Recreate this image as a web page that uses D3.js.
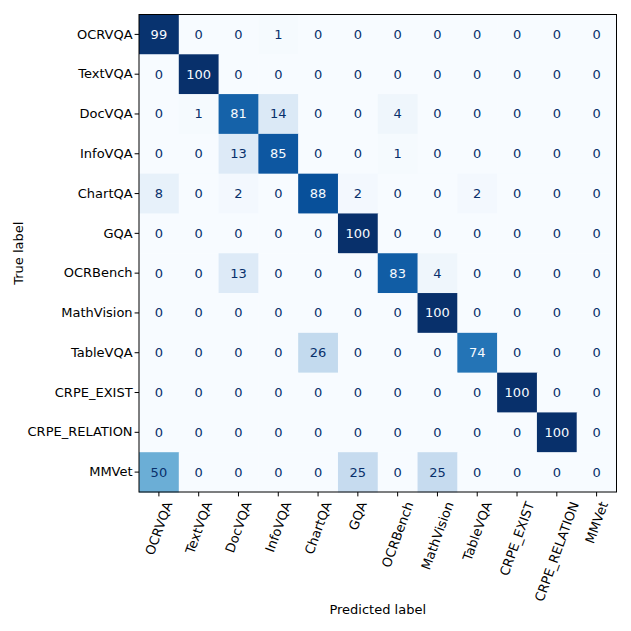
<!DOCTYPE html>
<html><head><meta charset="utf-8">
<script src="https://cdn.jsdelivr.net/npm/d3@7"></script>
<style>body{margin:0;background:#fff}svg{display:block}text{font-family:"DejaVu Sans",sans-serif}</style>
</head><body>
<svg id="c" width="631" height="631"></svg>
<script>
const trueLabels = ["OCRVQA","TextVQA","DocVQA","InfoVQA","ChartQA","GQA","OCRBench","MathVision","TableVQA","CRPE_EXIST","CRPE_RELATION","MMVet"];
const predLabels = ["OCRVQA","TextVQA","DocVQA","InfoVQA","ChartQA","GQA","OCRBench","MathVision","TableVQA","CRPE_EXIST","CRPE_RELATION","MMVet"];
const rowOCRVQA = [99,0,0,1,0,0,0,0,0,0,0,0];
const rowTextVQA = [0,100,0,0,0,0,0,0,0,0,0,0];
const rowDocVQA = [0,1,81,14,0,0,4,0,0,0,0,0];
const rowInfoVQA = [0,0,13,85,0,0,1,0,0,0,0,0];
const rowChartQA = [8,0,2,0,88,2,0,0,2,0,0,0];
const rowGQA = [0,0,0,0,0,100,0,0,0,0,0,0];
const rowOCRBench = [0,0,13,0,0,0,83,4,0,0,0,0];
const rowMathVision = [0,0,0,0,0,0,0,100,0,0,0,0];
const rowTableVQA = [0,0,0,0,26,0,0,0,74,0,0,0];
const rowCRPE_EXIST = [0,0,0,0,0,0,0,0,0,100,0,0];
const rowCRPE_RELATION = [0,0,0,0,0,0,0,0,0,0,100,0];
const rowMMVet = [50,0,0,0,0,25,0,25,0,0,0,0];
const matrix = [rowOCRVQA,rowTextVQA,rowDocVQA,rowInfoVQA,rowChartQA,rowGQA,rowOCRBench,rowMathVision,rowTableVQA,rowCRPE_EXIST,rowCRPE_RELATION,rowMMVet];

const blues = ["#f7fbff","#deebf7","#c6dbef","#9ecae1","#6baed6","#4292c6","#2171b5","#08519c","#08306b"];
const color = d3.scaleLinear().domain(d3.range(9).map(i => i/8*100)).range(blues).interpolate(d3.interpolateRgb);

const mLeft = 139, mTop = 14.5, size = 477.5;
const x = d3.scaleBand().domain(predLabels).range([mLeft, mLeft+size]);
const y = d3.scaleBand().domain(trueLabels).range([mTop, mTop+size]);
const svg = d3.select("#c");
const fs = 13;

const cells = [];
matrix.forEach((row,i) => row.forEach((v,j) => cells.push({r:trueLabels[i], c:predLabels[j], v})));

svg.append("g").selectAll("rect").data(cells).join("rect")
  .attr("x", d => x(d.c)).attr("y", d => y(d.r))
  .attr("width", x.bandwidth()+0.5).attr("height", y.bandwidth()+0.5)
  .attr("fill", d => color(d.v));

svg.append("g").selectAll("text").data(cells).join("text")
  .attr("x", d => x(d.c)+x.bandwidth()/2).attr("y", d => y(d.r)+y.bandwidth()/2)
  .attr("text-anchor","middle").attr("dominant-baseline","central")
  .attr("font-size", fs)
  .attr("fill", d => d.v > 50 ? "#f7fbff" : "#08306b")
  .text(d => d.v);

// frame
svg.append("rect").attr("x",mLeft).attr("y",mTop).attr("width",size).attr("height",size)
  .attr("fill","none").attr("stroke","#000").attr("stroke-width",1);

// y axis
const yAxis = svg.append("g").attr("transform",`translate(${mLeft},0)`)
  .call(d3.axisLeft(y).tickSize(4.4).tickPadding(2));
yAxis.select(".domain").remove();
yAxis.selectAll("text").attr("font-size",fs).attr("font-family","DejaVu Sans").attr("fill","#000");
yAxis.selectAll("line").attr("stroke","#000").attr("stroke-width",1);

// x axis
const xAxis = svg.append("g").attr("transform",`translate(0,${mTop+size})`)
  .call(d3.axisBottom(x).tickSize(4.4).tickFormat(""));
xAxis.select(".domain").remove();
xAxis.selectAll("line").attr("stroke","#000").attr("stroke-width",1);

const xl = svg.append("g");
const ang = 70*Math.PI/180;
predLabels.forEach(lbl => {
  const t = xl.append("text").attr("font-size",fs).attr("text-anchor","middle")
    .attr("dominant-baseline","central").attr("fill","#000").text(lbl);
  const w = t.node().getComputedTextLength();
  const h = fs*1.17;
  const bh = w*Math.sin(ang) + h*Math.cos(ang);
  const cx = x(lbl)+x.bandwidth()/2;
  const cy = mTop+size+4.4+3.2+bh/2;
  t.attr("transform",`translate(${cx},${cy}) rotate(-70)`);
});

svg.append("text").attr("x", mLeft+size/2).attr("y", 609)
  .attr("text-anchor","middle").attr("dominant-baseline","central")
  .attr("font-size",fs).attr("fill","#000").text("Predicted label");
svg.append("text").attr("transform",`translate(18,${mTop+size/2}) rotate(-90)`)
  .attr("text-anchor","middle").attr("dominant-baseline","central")
  .attr("font-size",fs).attr("fill","#000").text("True label");
</script>
</body></html>
